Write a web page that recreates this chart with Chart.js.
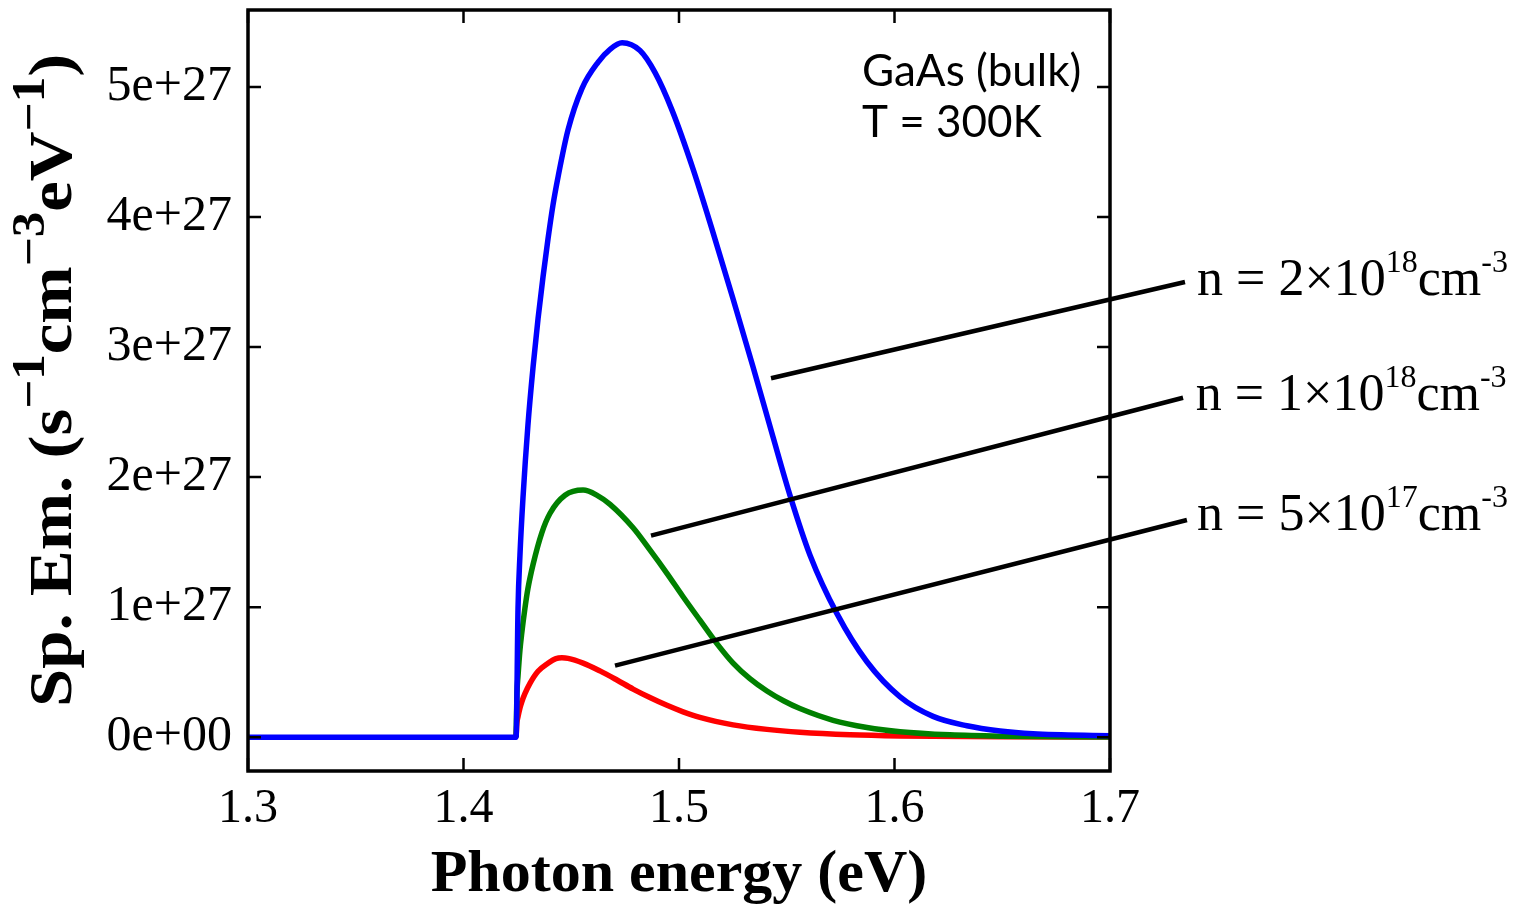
<!DOCTYPE html>
<html>
<head>
<meta charset="utf-8">
<script src="https://cdn.jsdelivr.net/npm/chart.js@4.4.1/dist/chart.umd.min.js"></script>
<style>
  html, body { margin: 0; padding: 0; background: #fff; }
  #wrap { width: 1523px; height: 908px; position: relative; }
</style>
</head>
<body>
<div id="wrap"><canvas id="canvas-1"></canvas></div>
<script>
// spontaneous emission spectra, values in units of 1e27 s^-1 cm^-3 eV^-1
var energyBlue = [1.3, 1.4244, 1.4253, 1.4262, 1.4276, 1.4299, 1.4323, 1.4346, 1.4369, 1.4392, 1.4415,
  1.4439, 1.4485, 1.4550, 1.4624, 1.4680, 1.4736, 1.4819, 1.4889, 1.4968, 1.5065, 1.5158, 1.5251, 1.5343,
  1.5436, 1.5515, 1.5608, 1.5733, 1.5872, 1.6026, 1.6179, 1.6336, 1.6490, 1.6643, 1.7];
var spBlue = [0, 0, 0.99, 1.40, 1.84, 2.40, 2.85, 3.22, 3.54, 3.83, 4.09,
  4.31, 4.67, 4.99, 5.19, 5.29, 5.34, 5.28, 5.11, 4.82, 4.37, 3.88, 3.37, 2.85,
  2.31, 1.86, 1.40, 0.95, 0.58, 0.31, 0.16, 0.088, 0.048, 0.027, 0.012];

var energyGreen = [1.4244, 1.4248, 1.4253, 1.4262, 1.4270, 1.4285, 1.4299, 1.4323, 1.4363, 1.4401,
  1.4471, 1.4555, 1.4620, 1.4680, 1.4787, 1.4865, 1.4944, 1.5019, 1.5097, 1.5176, 1.5251, 1.5329,
  1.5408, 1.5485, 1.5561, 1.5715, 1.5872, 1.6026, 1.6258, 1.6490, 1.7];
var spGreen = [0, 0.335, 0.47, 0.67, 0.795, 0.99, 1.143, 1.33, 1.57, 1.72,
  1.86, 1.90, 1.86, 1.79, 1.61, 1.44, 1.26, 1.08, 0.90, 0.72, 0.57, 0.45,
  0.355, 0.28, 0.22, 0.13, 0.075, 0.042, 0.018, 0.008, 0.002];

var energyRed = [1.4244, 1.4248, 1.4253, 1.4262, 1.4271, 1.4285, 1.4309, 1.4346, 1.4392, 1.4429, 1.4457,
  1.4485, 1.4555, 1.4633, 1.4712, 1.4787, 1.4865, 1.4944, 1.5019, 1.5097, 1.5251, 1.5408, 1.5561,
  1.5794, 1.6026, 1.6490, 1.7];
var spRed = [0, 0.112, 0.158, 0.224, 0.274, 0.335, 0.416, 0.507, 0.569, 0.604, 0.61,
  0.606, 0.57, 0.51, 0.44, 0.37, 0.305, 0.245, 0.195, 0.152, 0.095, 0.06, 0.038,
  0.019, 0.01, 0.003, 0.001];

var xTicks = [1.3, 1.4, 1.5, 1.6, 1.7];
var yTicks = [0, 1, 2, 3, 4, 5];

// label leader lines: [x0, y0, x1, y1] in data units, and label text anchor
var labelLines = [[1.5427, 2.76, 1.7348, 3.50], [1.4870, 1.55, 1.7339, 2.61], [1.4703, 0.55, 1.7357, 1.67]];
var labelMant = ['2', '1', '5'];
var labelExp = ['18', '18', '17'];
var labelPos = [[1.7404, 3.40], [1.7398, 2.515], [1.7404, 1.59]];
var notes = ['GaAs (bulk)', 'T = 300K'];
var notePos = [[1.5849, 5.01], [1.5849, 4.615]];

var serif = '"Liberation Serif", "Times New Roman", serif';

function toPoints(xs, ys) {
  return xs.map(function (e, i) { return { x: e, y: ys[i] }; });
}

var framePlugin = {
  id: 'frame',
  afterDraw: function (chart) {
    var ctx = chart.ctx, a = chart.chartArea, x = chart.scales.x, y = chart.scales.y;
    ctx.save();
    ctx.strokeStyle = '#000';
    ctx.lineWidth = 2.5;
    ctx.beginPath();
    xTicks.forEach(function (v) {
      var px = x.getPixelForValue(v);
      ctx.moveTo(px, a.bottom); ctx.lineTo(px, a.bottom - 13);
      ctx.moveTo(px, a.top); ctx.lineTo(px, a.top + 13);
    });
    yTicks.forEach(function (v) {
      var py = y.getPixelForValue(v);
      ctx.moveTo(a.left, py); ctx.lineTo(a.left + 13, py);
      ctx.moveTo(a.right, py); ctx.lineTo(a.right - 13, py);
    });
    ctx.stroke();
    ctx.lineWidth = 3.5;
    ctx.strokeRect(a.left, a.top, a.right - a.left, a.bottom - a.top);

    // leader lines
    ctx.lineWidth = 4.5;
    ctx.beginPath();
    labelLines.forEach(function (l) {
      ctx.moveTo(x.getPixelForValue(l[0]), y.getPixelForValue(l[1]));
      ctx.lineTo(x.getPixelForValue(l[2]), y.getPixelForValue(l[3]));
    });
    ctx.stroke();

    // density labels
    ctx.fillStyle = '#000';
    ctx.textBaseline = 'alphabetic';
    ctx.textAlign = 'left';
    labelPos.forEach(function (p, i) {
      var px = x.getPixelForValue(p[0]), py = y.getPixelForValue(p[1]);
      var parts = [['n = ' + labelMant[i] + '\u00d710', 0], [labelExp[i], 1], ['cm', 0], ['-3', 1]];
      parts.forEach(function (pt) {
        ctx.font = pt[1] ? '32px ' + serif : '52px ' + serif;
        ctx.fillText(pt[0], px, pt[1] ? py - 23 : py);
        px += ctx.measureText(pt[0]).width;
      });
    });

    // material note
    ctx.font = '44px Lato, "Open Sans", sans-serif';
    notes.forEach(function (t, i) {
      ctx.fillText(t, x.getPixelForValue(notePos[i][0]), y.getPixelForValue(notePos[i][1]));
    });

    // y axis title with superscripts
    var tparts = [['Sp. Em. (s', 0], ['\u22121', 1], ['cm', 0], ['\u22123', 1], ['eV', 0], ['\u22121', 1], [')', 0]];
    var mainF = 'bold 62px ' + serif, supF = 'bold 46px ' + serif;
    var total = 0;
    tparts.forEach(function (pt) { ctx.font = pt[1] ? supF : mainF; total += ctx.measureText(pt[0]).width; });
    ctx.translate(71, (a.top + a.bottom) / 2 - 10);
    ctx.rotate(-Math.PI / 2);
    ctx.scale(1.11, 1);
    var cx = -total / 2;
    tparts.forEach(function (pt) {
      ctx.font = pt[1] ? supF : mainF;
      ctx.fillText(pt[0], cx, pt[1] ? -27 : 0);
      cx += ctx.measureText(pt[0]).width;
    });
    ctx.restore();
  }
};

var spChart = new Chart(document.getElementById('canvas-1'), {
  type: 'line',
  data: {
    datasets: [{
      label: 'n = 2e18',
      data: toPoints(energyBlue, spBlue),
      borderColor: '#0000ff',
      borderWidth: 5.5,
      pointRadius: 0,
      cubicInterpolationMode: 'monotone'
    }, {
      label: 'n = 1e18',
      data: toPoints(energyGreen, spGreen),
      borderColor: '#008000',
      borderWidth: 5.5,
      pointRadius: 0,
      cubicInterpolationMode: 'monotone'
    }, {
      label: 'n = 5e17',
      data: toPoints(energyRed, spRed),
      borderColor: '#ff0000',
      borderWidth: 5.5,
      pointRadius: 0,
      cubicInterpolationMode: 'monotone'
    }]
  },
  options: {
    responsive: true,
    maintainAspectRatio: false,
    animation: false,
    layout: { padding: { left: 0, top: 10, right: 413, bottom: 0 } },
    plugins: { legend: { display: false }, tooltip: { enabled: false } },
    scales: {
      x: {
        type: 'linear',
        min: 1.3,
        max: 1.7,
        afterBuildTicks: function (s) { s.ticks = xTicks.map(function (v) { return { value: v }; }); },
        afterFit: function (s) { s.height = 137; s.paddingLeft = 0; s.paddingRight = 0; },
        grid: { display: false, drawTicks: false },
        border: { display: false },
        ticks: {
          padding: 10,
          color: '#000',
          maxRotation: 0,
          autoSkip: false,
          font: { family: serif, size: 48 },
          callback: function (v) { return Number(v).toFixed(1); }
        },
        title: {
          display: true,
          text: 'Photon energy (eV)',
          color: '#000',
          font: { family: serif, size: 60, weight: 'bold', lineHeight: 1 },
          padding: { top: 0, bottom: 3 }
        }
      },
      y: {
        type: 'linear',
        min: -0.26,
        max: 5.592,
        afterBuildTicks: function (s) { s.ticks = yTicks.map(function (v) { return { value: v }; }); },
        afterFit: function (s) { s.width = 248; s.paddingTop = 0; s.paddingBottom = 0; },
        grid: { display: false, drawTicks: false },
        border: { display: false },
        ticks: {
          padding: 16,
          color: '#000',
          font: { family: serif, size: 50 },
          callback: function (v) { return v === 0 ? '0e+00' : v + 'e+27'; }
        }
      }
    }
  },
  plugins: [framePlugin]
});
</script>
</body>
</html>
